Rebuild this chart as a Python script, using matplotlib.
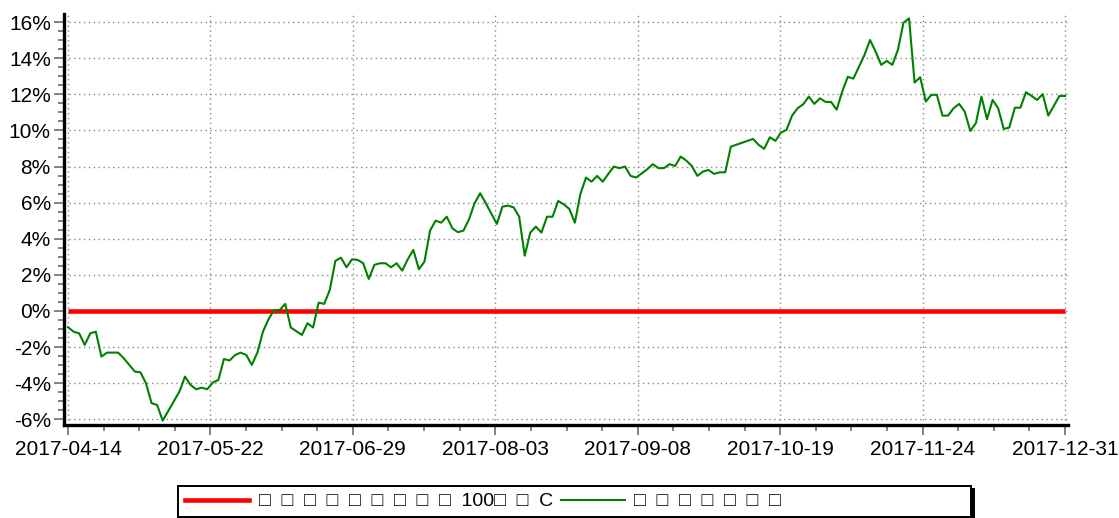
import numpy as np
import matplotlib
matplotlib.use('Agg')
import matplotlib.pyplot as plt
from matplotlib.lines import Line2D
from matplotlib.ticker import FixedLocator, MultipleLocator, AutoMinorLocator, FuncFormatter

plt.rcParams['font.family'] = ['Liberation Sans', 'DejaVu Sans']

# trading-day index and cumulative return (%)
idx = [0, 1, 2, 3, 4, 5, 6, 7, 8, 9, 10, 12, 13, 14, 15, 16, 17, 20, 21, 22,
       23, 24, 25, 26, 27, 28, 29, 30, 31, 32, 33, 34, 35, 36, 37, 38, 39, 40, 42, 43,
       44, 45, 46, 47, 48, 49, 50, 51, 52, 53, 54, 55, 56, 57, 58, 59, 60, 61, 62, 63,
       64, 65, 66, 67, 68, 69, 70, 71, 72, 73, 74, 75, 77, 78, 79, 80, 81, 82, 83, 84,
       85, 86, 87, 88, 89, 90, 91, 92, 93, 94, 95, 96, 97, 98, 99, 100, 101, 102, 104, 105,
       106, 107, 108, 109, 110, 111, 112, 113, 114, 115, 116, 117, 118, 119, 123, 124, 125, 126, 127, 128,
       129, 130, 131, 132, 133, 134, 135, 136, 137, 138, 139, 140, 141, 143, 144, 145, 146, 147, 148, 149,
       150, 151, 152, 153, 154, 155, 156, 157, 158, 159, 160, 161, 162, 163, 164, 165, 166, 167, 168, 169,
       170, 171, 172, 173, 174, 175, 176, 177, 178, 179]
strategy = [-0.90, -1.15, -1.24, -1.88, -1.24, -1.15, -2.53, -2.31, -2.31, -2.31, -2.62, -3.36, -3.40, -4.01, -5.11, -5.21, -6.08, -4.47, -3.64, -4.10,
            -4.34, -4.25, -4.34, -3.97, -3.82, -2.66, -2.75, -2.44, -2.31, -2.44, -2.99, -2.31, -1.15, -0.46, 0.05, 0.05, 0.39, -0.92, -1.33, -0.68,
            -0.92, 0.46, 0.39, 1.16, 2.77, 2.95, 2.42, 2.86, 2.83, 2.64, 1.77, 2.55, 2.64, 2.64, 2.42, 2.64, 2.23, 2.86, 3.38, 2.31,
            2.73, 4.45, 5.00, 4.89, 5.22, 4.58, 4.36, 4.45, 5.08, 5.97, 6.52, 5.97, 4.82, 5.78, 5.83, 5.74, 5.22, 3.06, 4.34, 4.67,
            4.34, 5.22, 5.22, 6.09, 5.91, 5.65, 4.89, 6.48, 7.39, 7.16, 7.48, 7.16, 7.59, 8.00, 7.91, 8.00, 7.48, 7.39, 7.85, 8.13,
            7.91, 7.91, 8.13, 8.03, 8.55, 8.33, 8.03, 7.48, 7.72, 7.81, 7.59, 7.68, 7.68, 9.10, 9.53, 9.20, 8.98, 9.62, 9.42, 9.88,
            10.03, 10.82, 11.23, 11.45, 11.87, 11.47, 11.78, 11.58, 11.58, 11.15, 12.15, 12.97, 12.87, 14.18, 15.01, 14.37, 13.63, 13.85, 13.63, 14.46,
            15.97, 16.21, 12.65, 12.95, 11.60, 11.97, 11.97, 10.82, 10.82, 11.23, 11.47, 11.04, 9.97, 10.40, 11.87, 10.62, 11.69, 11.23, 10.08, 10.16,
            11.26, 11.26, 12.12, 11.91, 11.69, 12.01, 10.82, 11.36, 11.91, 11.91]
benchmark = np.zeros(len(idx))  # flat at 0%

date_labels = ['2017-04-14', '2017-05-22', '2017-06-29', '2017-08-03',
               '2017-09-08', '2017-10-19', '2017-11-24', '2017-12-31']
label_bench = '□  □  □  □  □  □  □  □  □  100□  □  C'
label_strat = '□  □  □  □  □  □  □'
label_pad = '□  □  □  □  □'  # invisible, only widens the legend box like the original

fig = plt.figure(figsize=(11.19, 5.18), dpi=100)
ax = fig.add_axes([64 / 1119, 1 - 425 / 518, (1068 - 64) / 1119, (425 - 14) / 518])

ax.plot(idx, benchmark, color='#ff0000', lw=3.3, solid_capstyle='butt', zorder=3)
ax.plot(idx, strategy, color='#008000', lw=1.5, zorder=4)

ax.set_xlim(-0.72, 179.54)
ax.set_ylim(-6.32, 16.45)

ax.xaxis.set_major_locator(FixedLocator(np.linspace(idx[0], idx[-1], len(date_labels))))
ax.set_xticklabels(date_labels)
ax.xaxis.set_minor_locator(AutoMinorLocator(4))
ax.yaxis.set_major_locator(MultipleLocator(2))
ax.yaxis.set_minor_locator(AutoMinorLocator(4))
ax.yaxis.set_major_formatter(FuncFormatter(lambda v, p: f'{v:.0f}%'))

ax.tick_params(axis='both', which='both', colors='#777777', width=1.3, labelcolor='black', labelsize=15)
ax.tick_params(axis='y', which='major', length=7.5, pad=2)
ax.tick_params(axis='y', which='minor', length=4.5)
ax.tick_params(axis='x', which='major', length=7, pad=4)
ax.tick_params(axis='x', which='minor', length=4)

for s in ['top', 'right']:
    ax.spines[s].set_visible(False)
for s in ['left', 'bottom']:
    ax.spines[s].set_linewidth(2.4)
    ax.spines[s].set_color('black')

ax.grid(True, which='major', color='#888888', linestyle=(0, (1, 2.5)), linewidth=1)
ax.set_axisbelow(True)

handles = [Line2D([], [], color='#ff0000', lw=3.3),
           Line2D([], [], color='#008000', lw=1.5),
           Line2D([], [], color='none')]
leg = fig.legend(handles, [label_bench, label_strat, label_pad], loc='upper left',
                 bbox_to_anchor=(178 / 1119, 1 - 486 / 518), borderaxespad=0,
                 ncol=3, fontsize=14, handlelength=3.3, handletextpad=0.5,
                 columnspacing=0.4, borderpad=0.35, fancybox=False, framealpha=1,
                 edgecolor='black', shadow={'color': 'black', 'alpha': 1})
leg.get_frame().set_linewidth(1.4)
for t in leg.get_texts()[:2]:
    t.set_color('black')
leg.get_texts()[2].set_color('none')

fig.savefig('out.png', dpi=100)
